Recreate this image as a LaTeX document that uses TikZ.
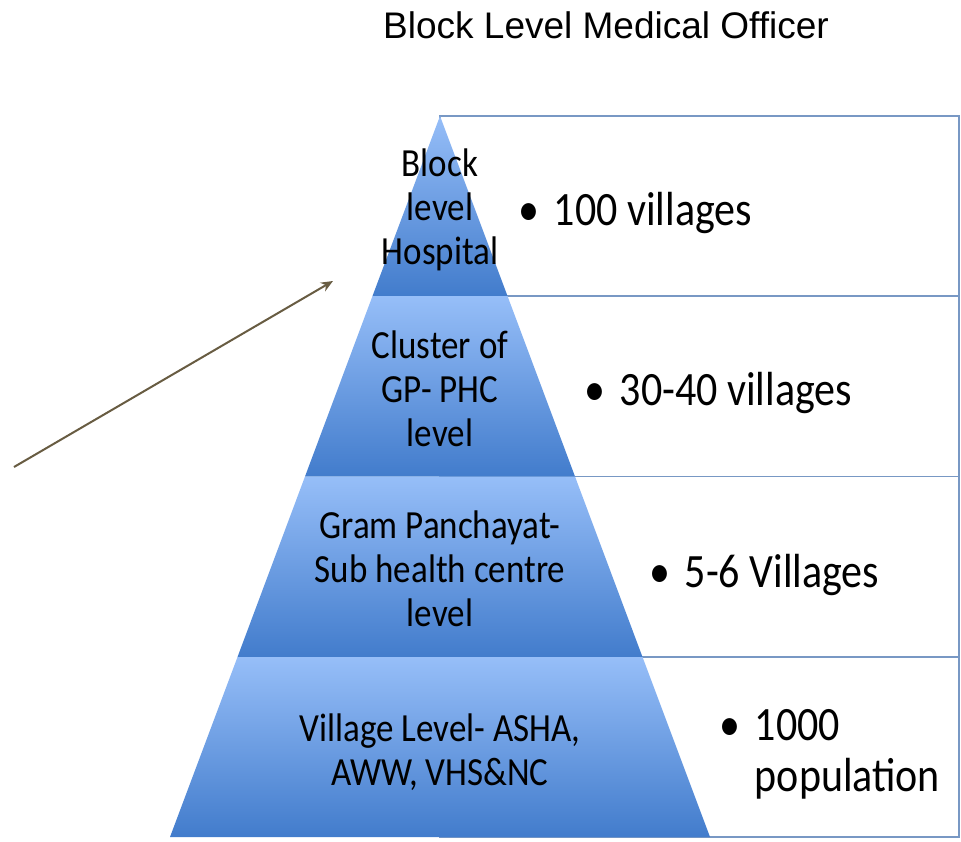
\documentclass[tikz,border=0pt]{standalone}
\usepackage{fontspec}
\usepackage{graphicx}
\setmainfont{Carlito}
\newfontfamily\titlefont{Liberation Sans}
\usetikzlibrary{arrows.meta}
\definecolor{bandlight}{RGB}{150,190,248}
\definecolor{bandmid}{RGB}{92,141,220}
\definecolor{banddark}{RGB}{66,124,204}
\definecolor{boxline}{RGB}{120,152,196}
\definecolor{arrowcol}{RGB}{104,92,66}
% taller, Calibri-like lettering
\newcommand{\tallstack}[2]{\scalebox{1}[1.14]{\begin{tabular}{@{}#1@{}}#2\end{tabular}}}
\tikzset{
  band/.style={top color=bandlight, middle color=bandmid, bottom color=banddark},
  infobox/.style={draw=boxline, line width=1.4pt, fill=white},
  bandtext/.style={inner sep=0pt, font=\fontsize{35}{38.6}\selectfont},
  infotext/.style={anchor=west, inner sep=0pt, font=\fontsize{42}{45}\selectfont},
}
\begin{document}
\begin{tikzpicture}[x=1pt, y=-1pt]
  \useasboundingbox (0,0) rectangle (961,841);
  % boxes behind the pyramid
  \draw[infobox] (440,116) rectangle (959,296);
  \draw[infobox] (440,296) rectangle (959,476.5);
  \draw[infobox] (440,476.5) rectangle (959,657);
  \draw[infobox] (440,657) rectangle (959,837);
  % pyramid bands
  \shade[band] (440,116) -- (507.5,296) -- (372.5,296) -- cycle;
  \shade[band] (372.5,296) -- (507.5,296) -- (575,476.5) -- (305,476.5) -- cycle;
  \shade[band] (305,476.5) -- (575,476.5) -- (642.5,657) -- (237.5,657) -- cycle;
  \shade[band] (237.5,657) -- (642.5,657) -- (710,837) -- (170,837) -- cycle;
  % labels
  \node[font=\titlefont\fontsize{37}{44}\selectfont] (title) at (606,25) {Block Level Medical Officer};
  \node[bandtext] (hospital) at (440,212) {\tallstack{c}{Block\\level\\Hospital}};
  \node[bandtext] (phc) at (440,394) {\tallstack{c}{Cluster of\\GP- PHC\\level}};
  \node[bandtext] (subcentre) at (440,574) {\tallstack{c}{Gram Panchayat-\\Sub health centre\\level}};
  \node[bandtext] (village) at (440,755) {\tallstack{c}{Village Level- ASHA,\\AWW, VHS\&NC}};
  \node[infotext] (hundred) at (518,215) {\tallstack{l}{\textbullet\hspace{0.35em}100 villages}};
  \node[infotext] (thirty) at (584,395) {\tallstack{l}{\textbullet\hspace{0.35em}30-40 villages}};
  \node[infotext] (five) at (649,577) {\tallstack{l}{\textbullet\hspace{0.35em}5-6 Villages}};
  \node[infotext] (thousand) at (719,756) {\tallstack{l}{\textbullet\hspace{0.35em}1000\\\hphantom{\textbullet\hspace{0.35em}}population}};
  % arrow
  \coordinate (arrowtail) at (14,467);
  \coordinate (arrowtip) at (333,281);
  \draw[arrowcol, line width=2pt, -{Stealth[length=12pt, width=10pt]}] (arrowtail) -- (arrowtip);
\end{tikzpicture}
\end{document}
